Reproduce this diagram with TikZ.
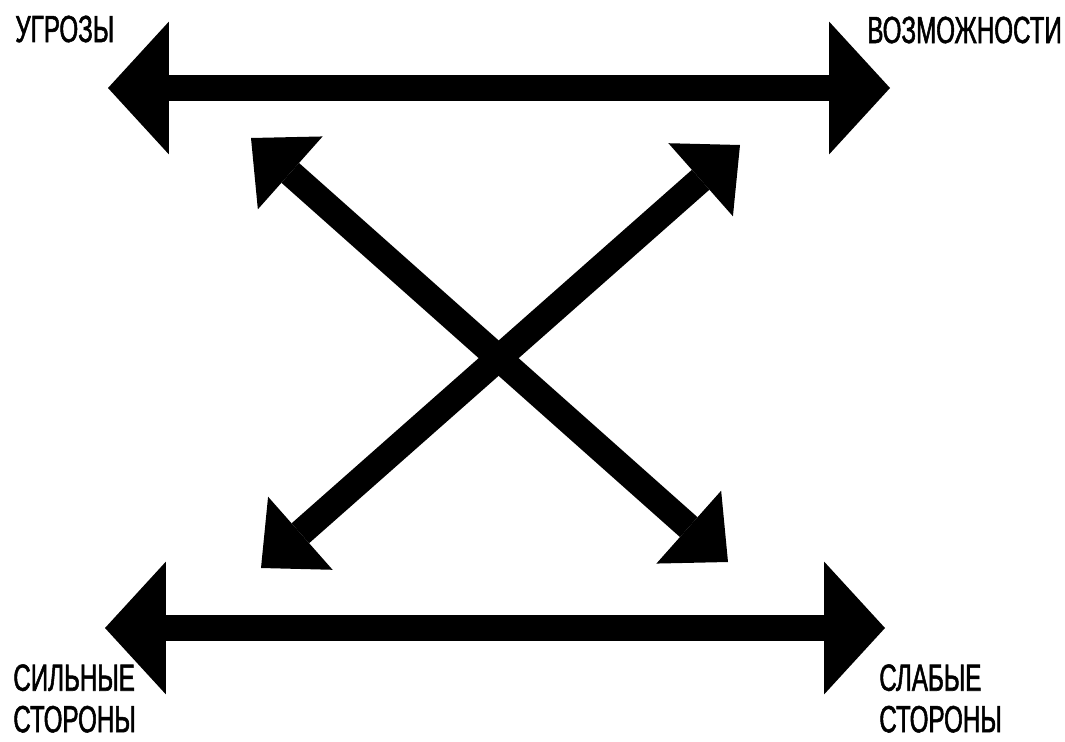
\documentclass[tikz,border=0pt]{standalone}
\usepackage{fontspec}
\newfontfamily\labelfont{Liberation Sans}[FakeStretch=0.64, FakeBold=1.4]
\usetikzlibrary{arrows.meta}

\begin{document}
\begin{tikzpicture}[x=0.02cm, y=-0.02cm,
    wide/.style={line width=0.53cm,
      {Triangle[length=1.22cm, width=2.66cm, line width=0pt]}-{Triangle[length=1.22cm, width=2.66cm, line width=0pt]}},
    cross/.style={line width=0.53cm,
      {Triangle[length=1.05cm, width=1.95cm, line width=0pt]}-{Triangle[length=1.05cm, width=1.95cm, line width=0pt]}},
    lbl/.style={font=\labelfont\fontsize{21.5}{23.6}\selectfont, inner sep=0pt, align=left}
]
\useasboundingbox (0,0) rectangle (1065,741);

% labels
\node[lbl, anchor=base west] (threats) at (15,42) {УГРОЗЫ};
\node[lbl, anchor=base west] (chances) at (867,43) {ВОЗМОЖНОСТИ};
\node[lbl, anchor=north west] (strong) at (13,664) {СИЛЬНЫЕ\\СТОРОНЫ};
\node[lbl, anchor=north west] (weak) at (879,664) {СЛАБЫЕ\\СТОРОНЫ};

% arrow ends
\coordinate (topL) at (108,88);
\coordinate (topR) at (890,88);
\coordinate (botL) at (105,628);
\coordinate (botR) at (885,628);
\coordinate (crossTL) at (251,138);
\coordinate (crossTR) at (740,145);
\coordinate (crossBL) at (261,568);
\coordinate (crossBR) at (728,562);

\draw[wide] (topL) -- (topR);
\draw[wide] (botL) -- (botR);
\draw[cross] (crossTL) -- (crossBR);
\draw[cross] (crossTR) -- (crossBL);
\end{tikzpicture}
\end{document}
